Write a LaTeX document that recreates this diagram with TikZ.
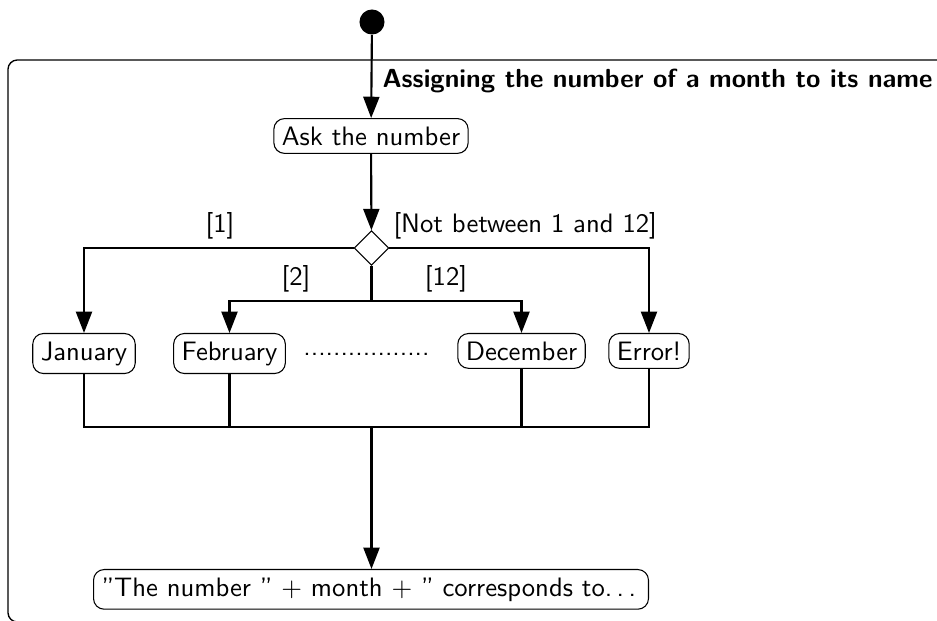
\documentclass[tikz,border=0pt]{standalone}
\usetikzlibrary{arrows.meta,shapes.geometric}
\renewcommand{\familydefault}{\sfdefault}
\begin{document}
\begin{tikzpicture}[x=0.375pt,y=-0.375pt,font=\sffamily\fontsize{10pt}{12pt}\selectfont,
  act/.style={draw,line width=0.4pt,rounded corners=4pt,inner sep=3pt,fill=white},
  flow/.style={line width=0.8pt,-{Triangle[length=8pt,width=6pt]}},
  link/.style={line width=0.8pt},
  lbl/.style={inner sep=0pt},
  frame/.style={line width=0.5pt,rounded corners=3.5pt}]
\useasboundingbox (0,0) rectangle (937,621);
\clip (0,0) rectangle (937,621);
\draw[frame] (8,60) rectangle (950,622);
\node[anchor=base west,font=\sffamily\bfseries\fontsize{9.8pt}{12pt}\selectfont,inner sep=0pt] (title) at (382,88) {Assigning the number of a month to its name};
\node[fill,circle,inner sep=0pt,minimum size=9.4pt] (start) at (372,22) {};
\node[act] (ask) at (371,136) {Ask the number};
\node[draw,diamond,aspect=1,line width=0.4pt,inner sep=0pt,minimum width=13pt,minimum height=13pt,fill=white] (dec) at (371.5,248) {};
\node[act,anchor=north] (jan) at (84,333) {January};
\node[act,anchor=north] (feb) at (229.5,333) {February};
\node[act,anchor=north] (decm) at (521.5,333) {December};
\node[act,anchor=north] (err) at (649,333) {Error!};
\node[anchor=base,inner sep=0pt] (dots) at (366.5,356) {.................};
\node[act,anchor=north west] (fin) at (93,569) {\textquotedblright The number \textquotedblright{} $+$ month $+$ \textquotedblright{} corresponds to.\kern1.67pt.\kern1.67pt.\kern1.67pt};
\coordinate (split) at (371.5,301);
\coordinate (join) at (371.5,427);
\draw[flow] (start) -- (ask);
\draw[flow] (ask) -- (dec);
\draw[flow] (dec.west) -| (jan.north);
\draw[flow] (dec.east) -| (err.north);
\draw[link] (dec.south) -- (split);
\draw[flow] (split) -| (feb.north);
\draw[flow] (split) -| (decm.north);
\draw[link] (jan.south) |- (join) -| (err.south);
\draw[link] (feb.south) -- (feb.south |- join);
\draw[link] (decm.south) -- (decm.south |- join);
\draw[flow] (join) -- (join |- fin.north);
\node[lbl] (l1) at (220,226) {[1]};
\node[lbl] (l2) at (296,279) {[2]};
\node[lbl] (l12) at (446,279) {[12]};
\node[lbl,anchor=west] (lne) at (393,226) {[Not between 1 and 12]};
\end{tikzpicture}
\end{document}
